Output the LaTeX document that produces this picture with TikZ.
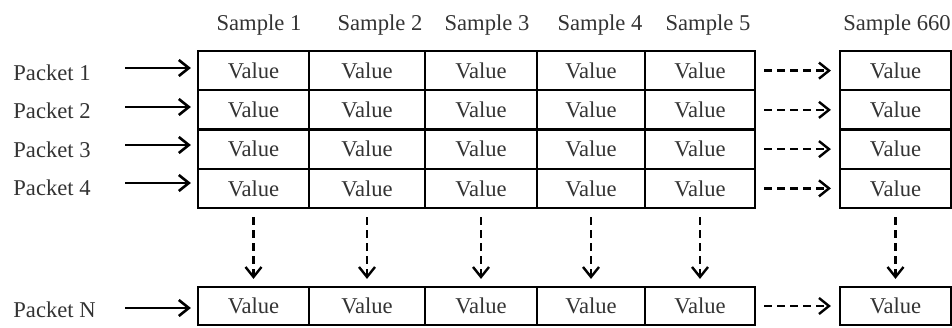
\documentclass[tikz,border=0pt]{standalone}
\usepackage{fontspec}
\setmainfont{Liberation Serif}
\usetikzlibrary{arrows.meta}
\begin{document}
\begin{tikzpicture}[x=0.5pt,y=-0.5pt,
  >={Straight Barb[length=5pt,width=8pt]},
  txt/.style={font=\fontsize{11.3}{13}\selectfont, text=black!80, inner sep=0pt},
  cell/.style={txt, draw=black, line width=1.1pt, text=black!80},
  inarrow/.style={->, line width=1.3pt, shorten >=3pt},
  dasharrow/.style={->, line width=1.2pt, dash pattern=on 4pt off 2.5pt}]
\useasboundingbox (0,0) rectangle (952,327);

% matrix of values: columns given by their left/right edges and label centre
\foreach \xa/\xb/\lx/\lab [count=\c] in
  {198/309/259/1, 309/425/380/2, 425/537/487/3, 537/645/600/4, 645/755/708/5, 840/951/897/660}{
  \node[txt, anchor=base] (s\c) at (\lx,30) {Sample \lab};
  \foreach \r in {1,...,4}{
    \node[cell, minimum width={(\xb-\xa)*0.5pt}, minimum height=19.625pt]
      (v\r-\c) at ({(\xa+\xb)/2},{50+39.25*(\r-0.5)+1}) {Value};
  }
  \node[cell, minimum width={(\xb-\xa)*0.5pt}, minimum height=19pt]
    (vN-\c) at ({(\xa+\xb)/2},306) {Value};
  \draw[dasharrow, shorten <=4pt, shorten >=3.5pt] (v4-\c) -- (vN-\c);
}

% packet labels with their input arrows
\foreach \r/\by/\ay in {1/80/68, 2/118/107, 3/157/145, 4/195/183}{
  \node[txt, anchor=base west] (p\r) at (13,\by) {Packet \r};
  \coordinate (a\r) at (125,\ay);
  \draw[inarrow] (a\r) -- (a\r -| v\r-1.west);
  \draw[dasharrow, shorten <=4pt, shorten >=4pt] (v\r-5) -- (v\r-6);
}
\node[txt, anchor=base west] (pN) at (13,317) {Packet N};
\coordinate (aN) at (125,308);
\draw[inarrow] (aN) -- (aN -| vN-1.west);
\draw[dasharrow, shorten <=4pt, shorten >=4pt] (vN-5) -- (vN-6);
\end{tikzpicture}
\end{document}
